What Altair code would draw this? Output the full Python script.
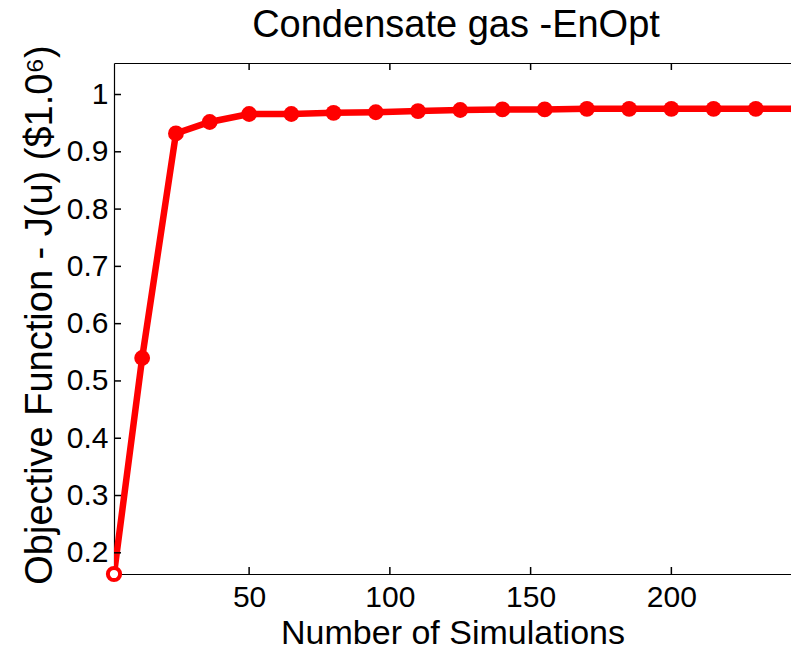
import altair as alt
import pandas as pd

# ---- data ----
sims = [2, 12, 24, 36, 50, 65, 80, 95, 110, 125, 140, 155, 170, 185, 200, 215, 230, 245]
objective = [0.163, 0.54, 0.932, 0.952, 0.966, 0.966, 0.968, 0.969, 0.971, 0.973,
             0.974, 0.974, 0.975, 0.975, 0.975, 0.975, 0.975, 0.975]
x_tick_values = [50, 100, 150, 200]
y_tick_values = [0.2, 0.3, 0.4, 0.5, 0.6, 0.7, 0.8, 0.9, 1.0]
x_domain = [2, 242.5]
y_domain = [0.163, 1.055]

title_text = "Condensate gas -EnOpt"
x_title = "Number of Simulations"
y_title = "Objective Function - J(u) ($1.0\u2076)"

# ---- styling ----
W, H = 677, 511
FONT = "Liberation Sans"
RED = "#ff0000"
TICK = 7

df = pd.DataFrame({"sims": sims, "objective": objective})
first = df.iloc[:1]
rest = df.iloc[1:]
xt = pd.DataFrame({"sims": x_tick_values})
yt = pd.DataFrame({"objective": y_tick_values})

xs = alt.Scale(domain=x_domain, nice=False, zero=False)
ys = alt.Scale(domain=y_domain, nice=False, zero=False)

common_axis = dict(grid=False, domain=True, domainColor="black", domainWidth=1.2,
                   labelFont=FONT, titleFont=FONT, labelColor="black", titleColor="black",
                   titleFontWeight="normal")

line = alt.Chart(df).mark_line(color=RED, strokeWidth=6.5, clip=True).encode(
    x=alt.X("sims:Q", scale=xs,
            axis=alt.Axis(orient="bottom", values=x_tick_values, title=x_title,
                          ticks=False, labelPadding=8, labelFontSize=30,
                          titleFontSize=34, titleBaseline="alphabetic",
                          titleY=69, titleX=W / 2, **common_axis)),
    y=alt.Y("objective:Q", scale=ys,
            axis=alt.Axis(orient="left", values=y_tick_values, format="~g", title=y_title,
                          ticks=False, labelPadding=6, labelFontSize=30,
                          titleFontSize=38, titleBaseline="alphabetic", titleAngle=270,
                          titleAlign="center", titleX=-63, titleY=H / 2 - 4, **common_axis)),
)

bottom_ticks = alt.Chart(xt).mark_rule(color="black", strokeWidth=1.5).encode(
    x=alt.X("sims:Q", scale=xs, axis=None),
    y=alt.value(H), y2=alt.value(H - TICK),
)

# top axis carries the chart title
top_ticks = alt.Chart(xt).mark_rule(color="black", strokeWidth=1.5).encode(
    x=alt.X("sims:Q", scale=xs,
            axis=alt.Axis(orient="top", labels=False, ticks=False, title=title_text,
                          titleFontSize=38, titleBaseline="alphabetic", titleAlign="center",
                          titleX=W / 2 + 3, titleY=-27, **common_axis)),
    y=alt.value(0), y2=alt.value(TICK),
)

left_ticks = alt.Chart(yt).mark_rule(color="black", strokeWidth=1.5).encode(
    y=alt.Y("objective:Q", scale=ys, axis=None),
    x=alt.value(0), x2=alt.value(TICK),
)

dots = alt.Chart(rest).mark_circle(color=RED, size=250, opacity=1, clip=True).encode(
    x=alt.X("sims:Q", scale=xs, axis=None),
    y=alt.Y("objective:Q", scale=ys, axis=None),
)

start = alt.Chart(first).mark_point(filled=True, fill="white", stroke=RED, strokeWidth=4,
                                    size=150, opacity=1, shape="circle").encode(
    x=alt.X("sims:Q", scale=xs, axis=None),
    y=alt.Y("objective:Q", scale=ys, axis=None),
)

chart = (
    alt.layer(line, bottom_ticks, top_ticks, left_ticks, dots, start)
    .resolve_axis(x="independent", y="independent")
    .properties(
        width=W, height=H,
        autosize=alt.AutoSizeParams(type="none"),
        padding={"left": 114, "top": 63, "right": 0, "bottom": 75},
        background="white",
    )
    .configure_view(stroke="transparent")
)

chart.save("out.html", embed_options={"renderer": "svg", "actions": False})
